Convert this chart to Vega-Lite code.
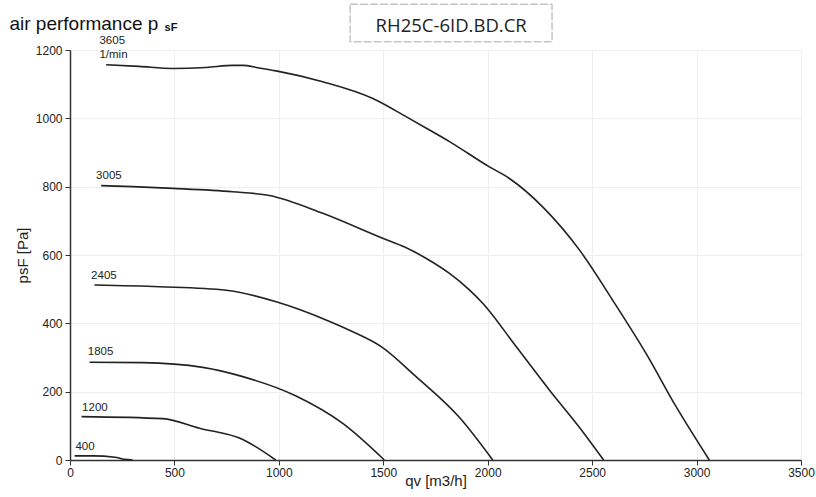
{
  "$schema": "https://vega.github.io/schema/vega-lite/v6.json",
  "width": 731,
  "height": 410,
  "autosize": "none",
  "padding": {"left": 70, "top": 50, "right": 15, "bottom": 37},
  "background": "white",
  "config": {
    "view": {"stroke": null},
    "font": "Liberation Sans",
    "axis": {
      "labelFont": "Liberation Sans",
      "labelFontSize": 12,
      "labelColor": "#222",
      "titleFont": "Liberation Sans",
      "titleFontSize": 15,
      "titleFontWeight": "normal",
      "titleColor": "#222",
      "domainColor": "#333",
      "domainWidth": 1.5,
      "tickColor": "#333",
      "tickSize": 5,
      "gridColor": "#eeeeee",
      "gridWidth": 1
    }
  },
  "datasets": {
    "curves": [
      {"rpm": "3605", "qv": 173, "psF": 1157},
      {"rpm": "3605", "qv": 330, "psF": 1152},
      {"rpm": "3605", "qv": 492, "psF": 1146},
      {"rpm": "3605", "qv": 652, "psF": 1149},
      {"rpm": "3605", "qv": 780, "psF": 1155},
      {"rpm": "3605", "qv": 827, "psF": 1155},
      {"rpm": "3605", "qv": 900, "psF": 1148},
      {"rpm": "3605", "qv": 987, "psF": 1139},
      {"rpm": "3605", "qv": 1210, "psF": 1107},
      {"rpm": "3605", "qv": 1450, "psF": 1058},
      {"rpm": "3605", "qv": 1609, "psF": 1005},
      {"rpm": "3605", "qv": 1721, "psF": 966},
      {"rpm": "3605", "qv": 1817, "psF": 932},
      {"rpm": "3605", "qv": 2008, "psF": 858},
      {"rpm": "3605", "qv": 2104, "psF": 824},
      {"rpm": "3605", "qv": 2263, "psF": 741},
      {"rpm": "3605", "qv": 2439, "psF": 615},
      {"rpm": "3605", "qv": 2598, "psF": 468},
      {"rpm": "3605", "qv": 2758, "psF": 312},
      {"rpm": "3605", "qv": 2902, "psF": 156},
      {"rpm": "3605", "qv": 3061, "psF": 0},
      {"rpm": "3005", "qv": 149, "psF": 803},
      {"rpm": "3005", "qv": 300, "psF": 800},
      {"rpm": "3005", "qv": 492, "psF": 795},
      {"rpm": "3005", "qv": 779, "psF": 785},
      {"rpm": "3005", "qv": 955, "psF": 774},
      {"rpm": "3005", "qv": 1210, "psF": 722},
      {"rpm": "3005", "qv": 1497, "psF": 649},
      {"rpm": "3005", "qv": 1600, "psF": 624},
      {"rpm": "3005", "qv": 1700, "psF": 592},
      {"rpm": "3005", "qv": 1817, "psF": 546},
      {"rpm": "3005", "qv": 1912, "psF": 498},
      {"rpm": "3005", "qv": 1976, "psF": 459},
      {"rpm": "3005", "qv": 2136, "psF": 332},
      {"rpm": "3005", "qv": 2295, "psF": 205},
      {"rpm": "3005", "qv": 2455, "psF": 83},
      {"rpm": "3005", "qv": 2555, "psF": 0},
      {"rpm": "2405", "qv": 117, "psF": 512},
      {"rpm": "2405", "qv": 428, "psF": 507},
      {"rpm": "2405", "qv": 748, "psF": 497},
      {"rpm": "2405", "qv": 987, "psF": 463},
      {"rpm": "2405", "qv": 1226, "psF": 410},
      {"rpm": "2405", "qv": 1338, "psF": 380},
      {"rpm": "2405", "qv": 1490, "psF": 332},
      {"rpm": "2405", "qv": 1657, "psF": 244},
      {"rpm": "2405", "qv": 1864, "psF": 125},
      {"rpm": "2405", "qv": 2024, "psF": 0},
      {"rpm": "1805", "qv": 94, "psF": 286},
      {"rpm": "1805", "qv": 349, "psF": 285},
      {"rpm": "1805", "qv": 636, "psF": 271},
      {"rpm": "1805", "qv": 827, "psF": 244},
      {"rpm": "1805", "qv": 1080, "psF": 188},
      {"rpm": "1805", "qv": 1306, "psF": 107},
      {"rpm": "1805", "qv": 1505, "psF": 0},
      {"rpm": "1200", "qv": 55, "psF": 127},
      {"rpm": "1200", "qv": 444, "psF": 121},
      {"rpm": "1200", "qv": 620, "psF": 93},
      {"rpm": "1200", "qv": 827, "psF": 60},
      {"rpm": "1200", "qv": 985, "psF": 0},
      {"rpm": "400", "qv": 22, "psF": 12},
      {"rpm": "400", "qv": 110, "psF": 12},
      {"rpm": "400", "qv": 215, "psF": 8},
      {"rpm": "400", "qv": 260, "psF": 2},
      {"rpm": "400", "qv": 300, "psF": 0}
    ],
    "labels": [
      {"label": "3605", "qv": 141, "psF": 1219},
      {"label": "1/min", "qv": 141, "psF": 1178},
      {"label": "3005", "qv": 125, "psF": 821},
      {"label": "2405", "qv": 101, "psF": 529},
      {"label": "1805", "qv": 85, "psF": 307},
      {"label": "1200", "qv": 58, "psF": 144},
      {"label": "400", "qv": 26, "psF": 29}
    ]
  },
  "layer": [
    {
      "data": {"name": "curves"},
      "mark": {"type": "line", "color": "#222", "strokeWidth": 1.6, "interpolate": "monotone"},
      "encoding": {
        "x": {
          "field": "qv",
          "type": "quantitative",
          "scale": {"domain": [0, 3500], "nice": false},
          "axis": {
            "values": [0, 500, 1000, 1500, 2000, 2500, 3000, 3500],
            "format": "d",
            "title": "qv [m3/h]",
            "titlePadding": -5,
            "labelPadding": 2,
            "labelFlush": false,
            "grid": true
          }
        },
        "y": {
          "field": "psF",
          "type": "quantitative",
          "scale": {"domain": [0, 1200], "nice": false},
          "axis": {
            "values": [0, 200, 400, 600, 800, 1000, 1200],
            "format": "d",
            "title": "psF [Pa]",
            "titlePadding": 5,
            "labelPadding": 3,
            "grid": true
          }
        },
        "detail": {"field": "rpm"}
      }
    },
    {
      "data": {"name": "labels"},
      "mark": {"type": "text", "align": "left", "baseline": "alphabetic", "fontSize": 11.5, "color": "#222", "font": "Liberation Sans"},
      "encoding": {
        "x": {"field": "qv", "type": "quantitative"},
        "y": {"field": "psF", "type": "quantitative"},
        "text": {"field": "label"}
      }
    },
    {
      "data": {"values": [{}]},
      "mark": {"type": "text", "align": "left", "baseline": "alphabetic", "fontSize": 19, "color": "#111", "font": "Liberation Sans"},
      "encoding": {
        "x": {"datum": -290},
        "y": {"datum": 1258},
        "text": {"value": "air performance p"}
      }
    },
    {
      "data": {"values": [{}]},
      "mark": {"type": "text", "align": "left", "baseline": "alphabetic", "fontSize": 11, "color": "#111", "font": "Liberation Sans", "fontWeight": "bold"},
      "encoding": {
        "x": {"datum": 453},
        "y": {"datum": 1255},
        "text": {"value": "sF"}
      }
    },
    {
      "data": {"values": [{}]},
      "mark": {"type": "rect", "fill": null, "stroke": "#a8a8a8", "strokeWidth": 1, "strokeDash": [8, 2]},
      "encoding": {
        "x": {"datum": 1341},
        "x2": {"datum": 2308},
        "y": {"datum": 1334},
        "y2": {"datum": 1224}
      }
    },
    {
      "data": {"values": [{}]},
      "mark": {"type": "text", "align": "center", "baseline": "alphabetic", "fontSize": 18.5, "color": "#222", "font": "Open Sans"},
      "encoding": {
        "x": {"datum": 1825},
        "y": {"datum": 1253},
        "text": {"value": "RH25C-6ID.BD.CR"}
      }
    }
  ]
}
